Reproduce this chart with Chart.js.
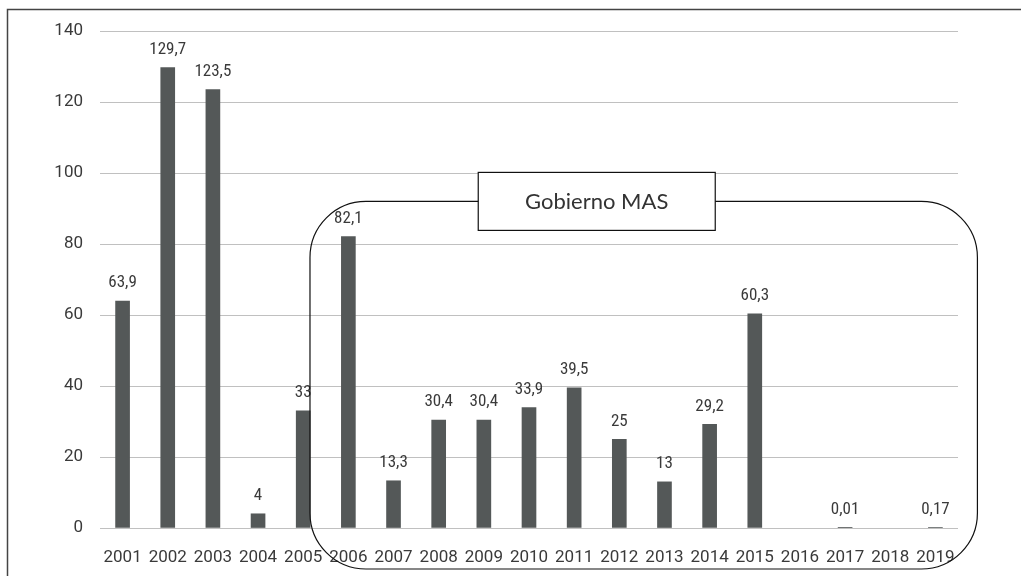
<!DOCTYPE html>
<html>
<head>
<meta charset="utf-8">
<script src="https://cdn.jsdelivr.net/npm/chart.js@4.4.1/dist/chart.umd.min.js"></script>
<style>
  html, body { margin: 0; padding: 0; background: #fff; }
  #wrap { width: 1021px; height: 576px; position: relative; }
</style>
</head>
<body>
<div id="wrap"><canvas id="barChart"></canvas></div>
<script>
// datos
const years = ['2001', '2002', '2003', '2004', '2005', '2006', '2007', '2008', '2009', '2010',
               '2011', '2012', '2013', '2014', '2015', '2016', '2017', '2018', '2019'];
const values = [63.9, 129.7, 123.5, 4, 33, 82.1, 13.3, 30.4, 30.4, 33.9,
                39.5, 25, 13, 29.2, 60.3, null, 0.01, null, 0.17];
const yTicks = [0, 20, 40, 60, 80, 100, 120, 140];
const periodLabel = 'Gobierno MAS';
const periodStart = '2006';
const periodEnd = '2019';

// Roboto estrecha (la fuente del original no existe aquí)
const narrow = { family: 'Roboto', style: 'semi-condensed', weight: 400, size: 17 };
const narrowCss = 'semi-condensed 400 17px Roboto';

const fmt = v => String(v).replace('.', ',');

// etiquetas encima de cada barra
const valueLabels = {
    id: 'valueLabels',
    afterDatasetsDraw(chart) {
        const ctx = chart.ctx;
        const meta = chart.getDatasetMeta(0);
        ctx.save();
        ctx.font = narrowCss;
        ctx.fillStyle = '#3a3a3a';
        ctx.textAlign = 'center';
        ctx.textBaseline = 'middle';
        meta.data.forEach((bar, i) => {
            const v = values[i];
            if (v === null) return;
            ctx.fillText(fmt(v), bar.x, bar.y - 18);
        });
        ctx.restore();
    }
};

// marco + recuadro redondeado del periodo
const frame = {
    id: 'frame',
    afterDraw(chart) {
        const ctx = chart.ctx;
        const x = chart.scales.x, y = chart.scales.y;
        const step = x.getPixelForValue(1) - x.getPixelForValue(0);
        ctx.save();

        ctx.strokeStyle = '#444';
        ctx.lineWidth = 1.5;
        ctx.strokeRect(7.5, 9.5, 1200, 1000);

        const i0 = years.indexOf(periodStart), i1 = years.indexOf(periodEnd);
        const left = x.getPixelForValue(i0) - 0.85 * step;
        const right = x.getPixelForValue(i1) + 0.93 * step;
        const top = y.getPixelForValue(92);
        const bottom = y.getPixelForValue(0) + 41;
        ctx.strokeStyle = '#111';
        ctx.lineWidth = 1.2;
        ctx.beginPath();
        ctx.roundRect(left, top, right - left, bottom - top, 56);
        ctx.stroke();

        const cx = x.getPixelForValue(years.indexOf('2011')) + 0.5 * step;
        const bw = 237, bh = 58;
        ctx.fillStyle = '#fff';
        ctx.fillRect(cx - bw / 2, top - bh / 2, bw, bh);
        ctx.strokeRect(cx - bw / 2, top - bh / 2, bw, bh);
        ctx.font = '22px Lato, "Noto Sans", sans-serif';
        ctx.fillStyle = '#333';
        ctx.textAlign = 'center';
        ctx.textBaseline = 'middle';
        ctx.fillText(periodLabel, cx, top + 1);
        ctx.restore();
    }
};

new Chart(document.getElementById('barChart'), {
    type: 'bar',
    data: {
        labels: years,
        datasets: [{
            data: values,
            backgroundColor: '#545858',
            barThickness: 14,
        }],
    },
    options: {
        responsive: true,
        maintainAspectRatio: false,
        animation: false,
        layout: { padding: { top: 31, right: 63, left: 0, bottom: 0 } },
        plugins: { legend: { display: false }, tooltip: { enabled: false } },
        scales: {
            x: {
                grid: { display: false },
                border: { display: false },
                ticks: { color: '#3a3a3a', font: narrow, padding: 12, maxRotation: 0, autoSkip: false },
                afterFit(scale) { scale.height = 48; },
            },
            y: {
                min: 0,
                max: 140,
                afterBuildTicks(scale) { scale.ticks = yTicks.map(v => ({ value: v })); },
                grid: { color: '#c0c0c0', lineWidth: 1, drawTicks: false },
                border: { display: false },
                ticks: { color: '#3a3a3a', font: narrow, padding: 17 },
                afterFit(scale) { scale.width = 100; },
            },
        },
    },
    plugins: [valueLabels, frame],
});
</script>
</body>
</html>
